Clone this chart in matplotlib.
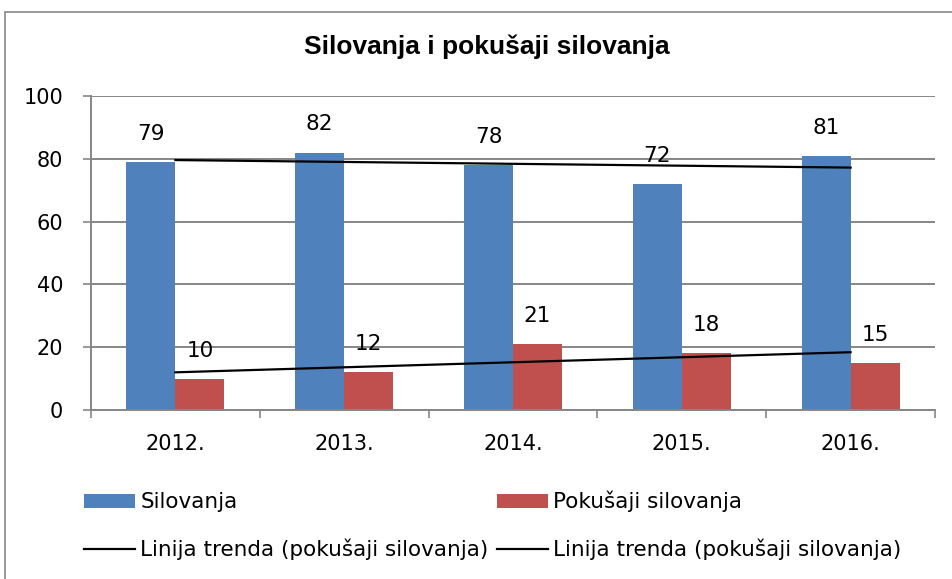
import matplotlib.pyplot as plt
import matplotlib.patches as mpatches
import numpy as np

plt.rcParams['font.family'] = ['DejaVu Sans']

years = ["2012.", "2013.", "2014.", "2015.", "2016."]
silovanja = [79, 82, 78, 72, 81]
pokusaji = [10, 12, 21, 18, 15]

blue = '#4F81BD'
red = '#C0504D'
grid_col = '#868686'

fig = plt.figure(figsize=(9.52, 5.79), dpi=100)
ax = fig.add_axes([91 / 952, 1 - 410 / 579, 844 / 952, 314 / 579])

x = np.arange(len(years))
w = 0.29
b1 = ax.bar(x - w / 2, silovanja, w, color=blue, label='Silovanja', zorder=2)
b2 = ax.bar(x + w / 2, pokusaji, w, color=red, label='Pokušaji silovanja', zorder=2)

# linear trend lines (least squares)
k1, n1 = np.polyfit(x, silovanja, 1)
k2, n2 = np.polyfit(x, pokusaji, 1)
l1, = ax.plot(x, k1 * x + n1, color='black', lw=1.6, zorder=3,
              label='Linija trenda (pokušaji silovanja)')
l2, = ax.plot(x, k2 * x + n2, color='black', lw=1.6, zorder=3,
              label='Linija trenda (pokušaji silovanja)')

for bars in (b1, b2):
    for r in bars:
        ax.annotate(f"{int(r.get_height())}", (r.get_x() + r.get_width() / 2, r.get_height()),
                    xytext=(0, 13), textcoords='offset points', ha='center', va='bottom',
                    fontsize=15.5, zorder=4)

ax.set_xlim(-0.5, len(years) - 0.5)
ax.set_ylim(0, 100)
ax.set_yticks(range(0, 101, 20))
ax.set_xticks(x)
ax.set_xticklabels(years)
ax.set_xticks(np.arange(-0.5, len(years)), minor=True)
ax.tick_params(axis='x', which='major', length=0, pad=17, labelsize=15)
ax.tick_params(axis='x', which='minor', length=6, color=grid_col, width=1.2)
ax.tick_params(axis='y', length=6, color=grid_col, width=1.2, pad=14, labelsize=15)
ax.yaxis.grid(True, color=grid_col, lw=1.4, zorder=0)
ax.set_axisbelow(True)
for s in ('top', 'right'):
    ax.spines[s].set_visible(False)
for s in ('left', 'bottom'):
    ax.spines[s].set_color(grid_col)
    ax.spines[s].set_linewidth(1.4)

fig.text(487 / 952, 1 - 47 / 579, "Silovanja i pokušaji silovanja", ha='center', va='center',
         fontsize=19, fontweight='bold', family='Liberation Sans')

fig.legend([b1, l1, b2, l2],
           ['Silovanja', 'Linija trenda (pokušaji silovanja)',
            'Pokušaji silovanja', 'Linija trenda (pokušaji silovanja)'],
           ncol=2, loc='upper left', bbox_to_anchor=(84 / 952, 1 - 491 / 579),
           frameon=False, fontsize=15.5, borderpad=0, borderaxespad=0,
           handlelength=2.37, handleheight=0.6, handletextpad=0.25,
           columnspacing=0.37, labelspacing=1.23)

fig.patches.append(mpatches.Rectangle((5 / 952, -0.1), 1.2, 1 - 12 / 579 + 0.1,
                                      transform=fig.transFigure, fill=False,
                                      edgecolor=grid_col, lw=1.2))

fig.savefig('out.png', dpi=100)
